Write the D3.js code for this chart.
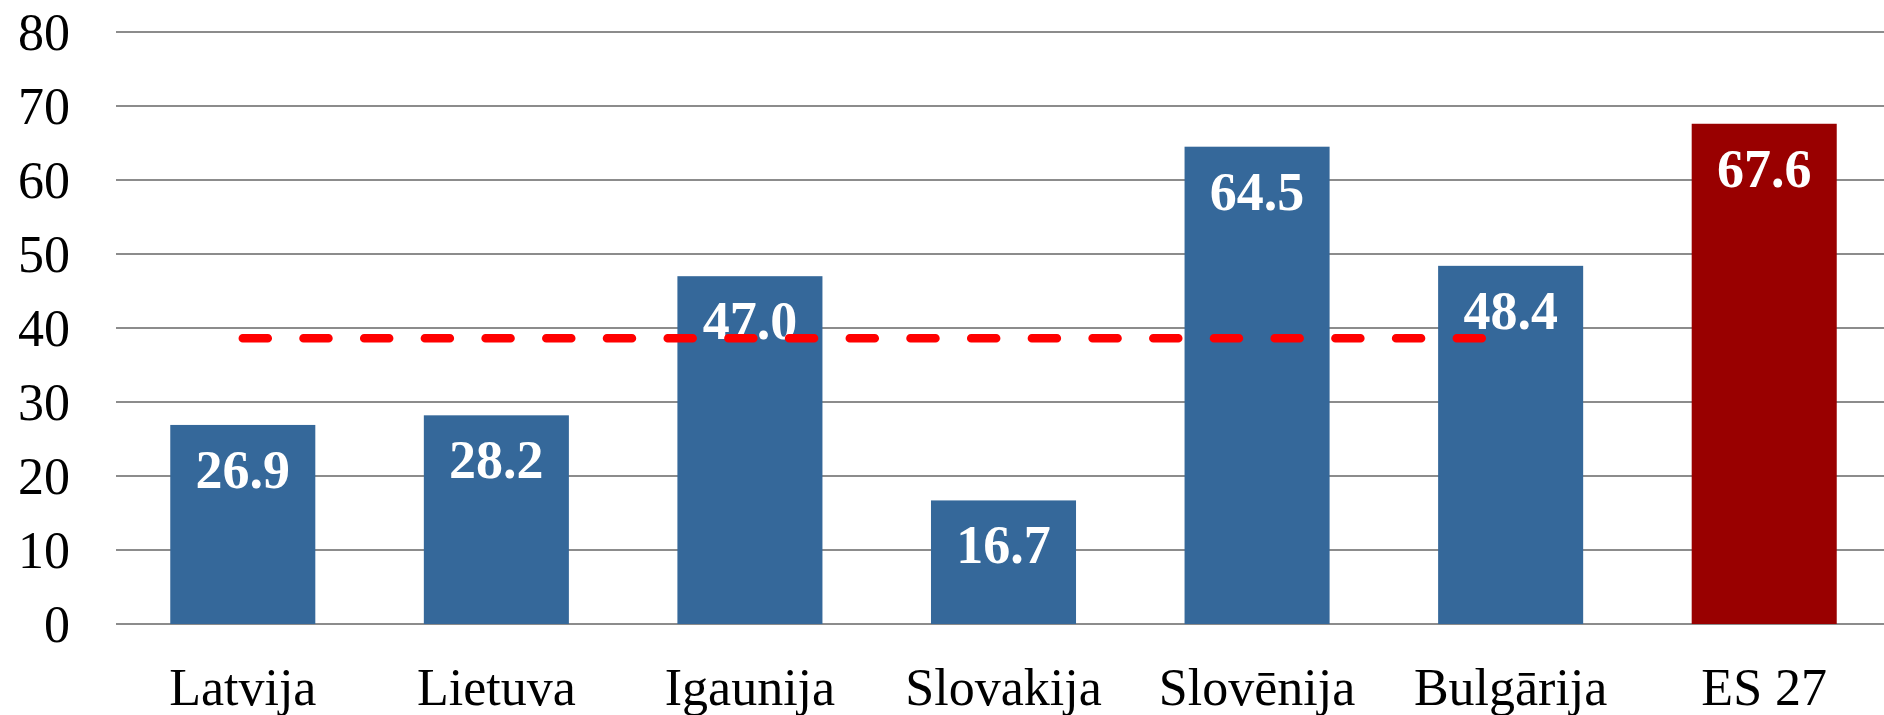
<!DOCTYPE html>
<html><head><meta charset="utf-8">
<script src="https://cdn.jsdelivr.net/npm/d3@7"></script>
<style>body{margin:0;background:#fff}svg{display:block}</style>
</head><body>
<svg id="c" width="1884" height="715"></svg>
<script>
const categories = ["Latvija","Lietuva","Igaunija","Slovakija","Slovēnija","Bulgārija","ES 27"];
const values = [26.9, 28.2, 47.0, 16.7, 64.5, 48.4, 67.6];
const barColors = ["#35689A","#35689A","#35689A","#35689A","#35689A","#35689A","#990000"];
const avgCategories = ["Latvija","Lietuva","Igaunija","Slovakija","Slovēnija","Bulgārija"];
const avgValues = [38.6, 38.6, 38.6, 38.6, 38.6, 38.6];
const yTicks = [0,10,20,30,40,50,60,70,80];

const svg = d3.select("#c");
const x = d3.scaleBand().domain(categories).range([116, 1891]).paddingInner(0.428).paddingOuter(0.214);
const y = d3.scaleLinear().domain([0, 80]).range([624, 32]);

// gridlines
svg.append("g").selectAll("line").data(yTicks).join("line")
  .attr("x1", 116).attr("x2", 1884)
  .attr("y1", d => y(d)).attr("y2", d => y(d))
  .attr("stroke", "#8c8c8c").attr("stroke-width", 2);

// y axis labels
const yAxis = d3.axisLeft(y).tickValues(yTicks).tickSize(0).tickPadding(0);
const ya = svg.append("g").attr("transform", "translate(70,0)").call(yAxis);
ya.select(".domain").remove();
ya.selectAll("text").attr("font-family", "'Liberation Serif','Times New Roman',serif")
  .attr("font-size", 52).attr("fill", "#000").attr("dy", "0.34em");

// bars
svg.append("g").selectAll("rect").data(categories).join("rect")
  .attr("x", d => x(d)).attr("width", x.bandwidth())
  .attr("y", (d,i) => y(values[i])).attr("height", (d,i) => y(0) - y(values[i]))
  .attr("fill", (d,i) => barColors[i]);

// value labels
svg.append("g").selectAll("text").data(categories).join("text")
  .attr("x", d => x(d) + x.bandwidth()/2)
  .attr("y", (d,i) => y(values[i]) + 63)
  .attr("text-anchor", "middle")
  .attr("font-family", "'Liberation Serif','Times New Roman',serif")
  .attr("font-weight", "bold").attr("font-size", 54).attr("fill", "#fff")
  .text((d,i) => values[i].toFixed(1));

// dashed average line
const line = d3.line().x(d => x(d[0]) + x.bandwidth()/2).y(d => y(d[1]));
svg.append("path").datum(avgCategories.map((c,i) => [c, avgValues[i]]))
  .attr("d", line).attr("fill", "none").attr("stroke", "#ff0000")
  .attr("stroke-width", 8.5).attr("stroke-linecap", "round")
  .attr("stroke-dasharray", "25 35.7");

// category labels
const xAxis = d3.axisBottom(x).tickSize(0).tickPadding(0);
const xa = svg.append("g").attr("transform", "translate(0,705)").call(xAxis);
xa.select(".domain").remove();
xa.selectAll("text").attr("font-family", "'Liberation Serif','Times New Roman',serif")
  .attr("font-size", 52).attr("fill", "#000").attr("dy", 0).attr("y", 0);
</script>
</body></html>
